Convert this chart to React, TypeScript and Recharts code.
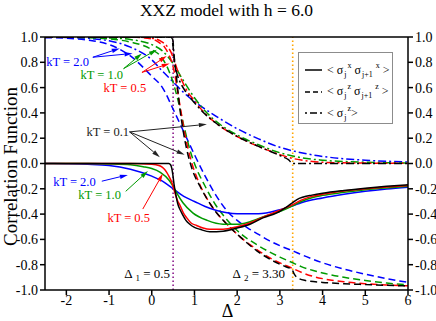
import { LineChart, Line, XAxis, YAxis, ReferenceLine, ReferenceDot } from 'recharts'

// Δ values / correlation values, one array per curve
// < σj^x σj+1^x >  (solid)
const xxT01 = [[-2.5, 0], [0, 0], [0.4, 0], [0.44, -0.01], [0.47, -0.04], [0.49, -0.08], [0.52, -0.16], [0.56, -0.24], [0.61, -0.32], [0.67, -0.37], [0.73, -0.41], [0.8, -0.45], [0.89, -0.48], [1.0, -0.505], [1.13, -0.52], [1.36, -0.54], [1.67, -0.535], [2.0, -0.51], [2.3, -0.48], [2.6, -0.43], [2.93, -0.39], [3.17, -0.34], [3.3, -0.31], [3.4, -0.285], [3.55, -0.265], [3.75, -0.25], [4.0, -0.235], [4.5, -0.213], [5.0, -0.195], [5.5, -0.18], [6.0, -0.168]]
const xxT05 = [[-2.5, 0], [-0.5, 0], [0, -0.005], [0.1, -0.01], [0.2, -0.02], [0.28, -0.04], [0.35, -0.07], [0.4, -0.1], [0.47, -0.15], [0.54, -0.23], [0.6, -0.29], [0.66, -0.33], [0.74, -0.39], [0.82, -0.43], [0.92, -0.47], [1.05, -0.49], [1.2, -0.51], [1.36, -0.52], [1.67, -0.52], [2.0, -0.5], [2.3, -0.47], [2.7, -0.41], [3.07, -0.36], [3.3, -0.325], [3.5, -0.29], [3.75, -0.26], [4.0, -0.243], [4.5, -0.218], [5.0, -0.2], [5.5, -0.186], [6.0, -0.174]]
const xxT10 = [[-2.5, 0], [-1.5, 0], [-1, -0.003], [-0.5, -0.01], [-0.2, -0.025], [0, -0.04], [0.2, -0.07], [0.4, -0.13], [0.5, -0.18], [0.58, -0.23], [0.73, -0.31], [0.96, -0.39], [1.3, -0.45], [1.67, -0.48], [2.0, -0.48], [2.3, -0.46], [2.7, -0.41], [3.07, -0.37], [3.3, -0.335], [3.5, -0.3], [3.75, -0.27], [4.0, -0.252], [4.5, -0.228], [5.0, -0.208], [5.5, -0.193], [6.0, -0.18]]
const xxT20 = [[-2.5, 0], [-2, -0.002], [-1.5, -0.006], [-1, -0.015], [-0.5, -0.045], [0, -0.1], [0.25, -0.14], [0.5, -0.2], [0.75, -0.26], [1.0, -0.3], [1.25, -0.34], [1.5, -0.37], [2.0, -0.397], [2.5, -0.397], [3.0, -0.365], [3.3, -0.335], [3.5, -0.31], [4.0, -0.272], [4.5, -0.243], [5.0, -0.22], [5.5, -0.202], [6.0, -0.188]]

// < σj^z σj+1^z >  (dashed)
const zzT01 = [[-2.5, 1], [0.44, 1], [0.47, 0.99], [0.49, 0.95], [0.52, 0.86], [0.56, 0.74], [0.61, 0.58], [0.66, 0.43], [0.73, 0.27], [0.82, 0.11], [0.94, -0.04], [1.13, -0.18], [1.43, -0.35], [1.76, -0.48], [2.07, -0.58], [2.46, -0.69], [2.84, -0.77], [3.17, -0.82], [3.28, -0.835], [3.33, -0.87], [3.4, -0.9], [3.6, -0.925], [4.0, -0.94], [4.5, -0.95], [5.0, -0.957], [6.0, -0.968]]
const zzT05 = [[-2.5, 1], [-0.5, 1], [0, 0.985], [0.2, 0.95], [0.3, 0.92], [0.4, 0.86], [0.47, 0.8], [0.53, 0.72], [0.6, 0.58], [0.67, 0.44], [0.75, 0.28], [0.84, 0.13], [0.95, -0.01], [1.13, -0.17], [1.43, -0.35], [1.76, -0.48], [2.07, -0.58], [2.46, -0.68], [2.84, -0.76], [3.17, -0.81], [3.3, -0.83], [3.5, -0.86], [3.75, -0.89], [4.0, -0.91], [4.5, -0.935], [5.0, -0.95], [5.5, -0.96], [6.0, -0.967]]
const zzT10 = [[-2.5, 1], [-1.5, 0.995], [-1, 0.985], [-0.5, 0.96], [0, 0.9], [0.25, 0.83], [0.5, 0.64], [0.6, 0.52], [0.75, 0.3], [0.9, 0.1], [1.0, 0.0], [1.25, -0.18], [1.5, -0.33], [1.75, -0.44], [2.0, -0.53], [2.5, -0.65], [3.0, -0.74], [3.3, -0.785], [3.5, -0.815], [4.0, -0.865], [4.5, -0.9], [5.0, -0.925], [5.5, -0.945], [6.0, -0.96]]
const zzT20 = [[-2.5, 0.995], [-2, 0.99], [-1.5, 0.975], [-1, 0.94], [-0.5, 0.85], [0, 0.69], [0.25, 0.6], [0.5, 0.43], [0.75, 0.25], [1.0, 0.07], [1.25, -0.1], [1.5, -0.25], [1.75, -0.37], [2.0, -0.45], [2.25, -0.51], [2.5, -0.56], [2.75, -0.61], [3.0, -0.65], [3.3, -0.69], [3.5, -0.72], [4.0, -0.785], [4.5, -0.835], [5.0, -0.875], [5.5, -0.91], [6.0, -0.94]]

// < σj^z >  (dash-dot)
const szT01 = [[-2.5, 1], [0.45, 1], [0.48, 0.99], [0.5, 0.96], [0.52, 0.85], [0.55, 0.77], [0.6, 0.7], [0.7, 0.62], [0.8, 0.565], [1.0, 0.48], [1.25, 0.39], [1.5, 0.32], [2.0, 0.215], [2.5, 0.135], [3.0, 0.063], [3.2, 0.03], [3.3, 0], [3.5, 0], [6.0, 0]]
const szT05 = [[-2.5, 1], [-0.5, 1], [0, 0.99], [0.2, 0.97], [0.35, 0.93], [0.45, 0.88], [0.52, 0.82], [0.6, 0.74], [0.7, 0.66], [0.8, 0.59], [1.0, 0.495], [1.25, 0.395], [1.5, 0.32], [2.0, 0.212], [2.5, 0.135], [3.0, 0.07], [3.3, 0.04], [3.5, 0.027], [4.0, 0.01], [5.0, 0.003], [6.0, 0.001]]
const szT10 = [[-2.5, 1], [-1.5, 0.998], [-1, 0.993], [-0.5, 0.98], [0, 0.94], [0.25, 0.89], [0.5, 0.79], [0.75, 0.65], [1.0, 0.52], [1.25, 0.415], [1.5, 0.335], [2.0, 0.225], [2.5, 0.148], [3.0, 0.085], [3.3, 0.06], [3.5, 0.046], [4.0, 0.026], [5.0, 0.01], [6.0, 0.004]]
const szT20 = [[-2.5, 1], [-2, 0.997], [-1.5, 0.99], [-1, 0.97], [-0.5, 0.92], [0, 0.82], [0.25, 0.73], [0.5, 0.645], [0.75, 0.56], [1.0, 0.49], [1.25, 0.43], [1.5, 0.375], [2.0, 0.275], [2.5, 0.195], [3.0, 0.128], [3.3, 0.1], [3.5, 0.085], [4.0, 0.056], [4.5, 0.038], [5.0, 0.026], [6.0, 0.012]]

const xTicks = [-2, -1, 0, 1, 2, 3, 4, 5, 6]
const yTicks = [-1, -0.8, -0.6, -0.4, -0.2, 0, 0.2, 0.4, 0.6, 0.8, 1]
const delta1 = 0.5
const delta2 = 3.3

const FONT = '"Liberation Serif", "DejaVu Serif", serif'
const BLACK = '#000000'
const RED = '#ff0000'
const GREEN = '#009a00'
const BLUE = '#0000ff'
const DASH = '7 4'
const DASHDOT = '8 3 2 3'

const toPts = (rows: number[][]) => rows.map(([d, v]) => ({ d, v }))

const curves = [
  { id: 'szT20', rows: szT20, color: BLUE, dash: DASHDOT },
  { id: 'szT10', rows: szT10, color: GREEN, dash: DASHDOT },
  { id: 'szT05', rows: szT05, color: RED, dash: DASHDOT },
  { id: 'szT01', rows: szT01, color: BLACK, dash: DASHDOT },
  { id: 'zzT20', rows: zzT20, color: BLUE, dash: DASH },
  { id: 'zzT10', rows: zzT10, color: GREEN, dash: DASH },
  { id: 'zzT05', rows: zzT05, color: RED, dash: DASH },
  { id: 'zzT01', rows: zzT01, color: BLACK, dash: DASH },
  { id: 'xxT20', rows: xxT20, color: BLUE, dash: undefined },
  { id: 'xxT10', rows: xxT10, color: GREEN, dash: undefined },
  { id: 'xxT05', rows: xxT05, color: RED, dash: undefined },
  { id: 'xxT01', rows: xxT01, color: BLACK, dash: undefined },
]

// temperature labels with their arrows (data coordinates)
const notes = [
  { text: 'kT = 2.0', color: BLUE, at: [-1.97, 0.8], from: [-1.38, 0.84], to: [[-0.75, 0.91], [-0.45, 0.87]] },
  { text: 'kT = 1.0', color: GREEN, at: [-1.17, 0.7], from: [-0.66, 0.75], to: [[-0.23, 0.87], [0.12, 0.9]] },
  { text: 'kT = 0.5', color: RED, at: [-0.63, 0.6], from: [-0.23, 0.72], to: [[0.35, 0.85], [0.42, 0.79]] },
  { text: 'kT = 0.1', color: '#222', at: [-1.03, 0.25], from: [-0.52, 0.25], to: [[1.29, 0.31], [0.19, 0.05], [0.77, 0.07]] },
  { text: 'kT = 2.0', color: BLUE, at: [-1.81, -0.15], from: [-1.17, -0.14], to: [[-0.56, -0.09]] },
  { text: 'kT = 1.0', color: GREEN, at: [-1.22, -0.25], from: [-0.61, -0.22], to: [[-0.09, -0.06]] },
  { text: 'kT = 0.5', color: RED, at: [-0.54, -0.43], from: [-0.21, -0.36], to: [[0.26, -0.08]] },
]

const fmt = (v: number) => v.toFixed(1)
const tickStyle = { fill: '#000', fontSize: 14, fontFamily: FONT }
const axisLine = { stroke: '#000', strokeWidth: 1.5 }

function Arrow(props: any) {
  const { x1, y1, x2, y2, stroke } = props
  const a = Math.atan2(y2 - y1, x2 - x1)
  const L = 8
  const W = 2.2
  const bx = x2 - L * Math.cos(a)
  const by = y2 - L * Math.sin(a)
  const p1 = `${bx + W * Math.sin(a)},${by - W * Math.cos(a)}`
  const p2 = `${bx - W * Math.sin(a)},${by + W * Math.cos(a)}`
  return (
    <g>
      <line x1={x1} y1={y1} x2={bx} y2={by} stroke={stroke} strokeWidth={1} />
      <polygon points={`${x2},${y2} ${p1} ${p2}`} fill={stroke} />
    </g>
  )
}

const noteShape = (text: string, color: string) => (p: any) => (
  <text x={p.cx} y={p.cy} fill={color} fontFamily={FONT} fontSize={12.5} textAnchor="middle" dominantBaseline="central">
    {text}
  </text>
)

const deltaShape = (sub: string, value: string) => (p: any) => (
  <text x={p.cx} y={p.cy} fill="#000" fontFamily={FONT} fontSize={13} textAnchor="end">
    Δ<tspan dx={3} dy={3} fontSize={9}>{sub}</tspan>
    <tspan dy={-3}>{` = ${value}`}</tspan>
  </text>
)

const yLabel = (p: any) => {
  const vb = p.viewBox
  const cx = vb.x + 10
  const cy = vb.y + vb.height / 2 + 3
  return (
    <text x={cx} y={cy} transform={`rotate(-90, ${cx}, ${cy})`} textAnchor="middle" dominantBaseline="central" fontFamily={FONT} fontSize={19} fill="#000">
      Correlation Function
    </text>
  )
}

const xLabel = (p: any) => {
  const vb = p.viewBox
  return (
    <text x={vb.x + vb.width / 2 + 1} y={vb.y + 27} textAnchor="middle" fontFamily={FONT} fontSize={18} fill="#000">
      Δ
    </text>
  )
}

const legendRows = [
  { dash: undefined, label: (<>&lt; σ<sub>j</sub><sup>x</sup> σ<sub>j+1</sub><sup> x</sup> &gt;</>) },
  { dash: '5 3', label: (<>&lt; σ<sub>j</sub><sup>z</sup> σ<sub>j+1</sub><sup> z</sup> &gt;</>) },
  { dash: '2 3 7 3', label: (<>&lt; σ<sub>j</sub><sup>z</sup>&gt;</>) },
]

export default function App() {
  return (
    <div style={{ position: 'absolute', left: 0, top: 0, width: 436, height: 321, background: '#fff', fontFamily: FONT }}>
      <style>{`.lg sub, .lg sup { font-size: 8px; line-height: 0; position: relative; vertical-align: baseline; } .lg sub { top: 3px; margin-left: 1px; } .lg sup { top: -6px; margin-left: 1px; }`}</style>
      <div style={{ position: 'absolute', left: 0, top: 0 }}>
        <LineChart width={436} height={321} margin={{ top: 36, right: 0, bottom: 0, left: 0 }}>
          <XAxis dataKey="d" type="number" domain={[-2.5, 6]} ticks={xTicks} allowDataOverflow height={31} tickSize={5} tickMargin={0} tick={tickStyle} axisLine={axisLine} tickLine={axisLine} label={xLabel} />
          <XAxis xAxisId="t" orientation="top" type="number" domain={[-2.5, 6]} ticks={xTicks} allowDataOverflow height={1} tickSize={5} tickFormatter={() => ''} axisLine={axisLine} tickLine={axisLine} />
          <YAxis type="number" domain={[-1, 1]} ticks={yTicks} allowDataOverflow width={45} tickSize={5} tickMargin={2} tick={tickStyle} tickFormatter={fmt} axisLine={axisLine} tickLine={axisLine} label={yLabel} />
          <YAxis yAxisId="r" orientation="right" type="number" domain={[-1, 1]} ticks={yTicks} allowDataOverflow width={28} tickSize={5} tickMargin={2} tick={tickStyle} tickFormatter={fmt} axisLine={axisLine} tickLine={axisLine} />

          <ReferenceLine x={delta1} stroke="#8b1a8b" strokeWidth={1.6} strokeDasharray="1.5 2.5" />
          <ReferenceLine x={delta2} stroke="#ffa500" strokeWidth={1.6} strokeDasharray="1.5 2.5" />

          {curves.map((c) => (
            <Line
              key={c.id}
              data={toPts(c.rows)}
              dataKey="v"
              type="monotone"
              stroke={c.color}
              strokeWidth={1.5}
              strokeDasharray={c.dash}
              dot={false}
              activeDot={false}
              isAnimationActive={false}
            />
          ))}

          {notes.map((n, i) =>
            n.to.map((t, j) => (
              <ReferenceLine
                key={`a${i}-${j}`}
                segment={[{ x: n.from[0], y: n.from[1] }, { x: t[0], y: t[1] }]}
                stroke={n.color}
                ifOverflow="visible"
                shape={Arrow}
              />
            ))
          )}
          {notes.map((n, i) => (
            <ReferenceDot key={`n${i}`} x={n.at[0]} y={n.at[1]} r={0} ifOverflow="visible" shape={noteShape(n.text, n.color)} />
          ))}
          <ReferenceDot x={0.43} y={-0.905} r={0} ifOverflow="visible" shape={deltaShape('1', '0.5')} />
          <ReferenceDot x={3.12} y={-0.905} r={0} ifOverflow="visible" shape={deltaShape('2', '3.30')} />
        </LineChart>
      </div>

      <div style={{ position: 'absolute', left: 45, top: 0, width: 363, textAlign: 'center', fontSize: 17.5, lineHeight: '20px', color: '#000' }}>
        XXZ model with h = 6.0
      </div>

      <div className="lg" style={{ position: 'absolute', left: 298, top: 52, width: 93, height: 70, border: '1px solid #8c8c8c', background: '#fff', fontSize: 12, color: '#000' }}>
        {legendRows.map((row, i) => (
          <div key={i} style={{ position: 'absolute', left: 0, top: 9 + i * 21.5, height: 16, display: 'flex', alignItems: 'center', whiteSpace: 'nowrap' }}>
            <svg width={17} height={10} style={{ marginLeft: 6 }}>
              <line x1={0} y1={5} x2={17} y2={5} stroke="#000" strokeWidth={1.5} strokeDasharray={row.dash} />
            </svg>
            <span style={{ marginLeft: 5 }}>{row.label}</span>
          </div>
        ))}
      </div>
    </div>
  )
}
